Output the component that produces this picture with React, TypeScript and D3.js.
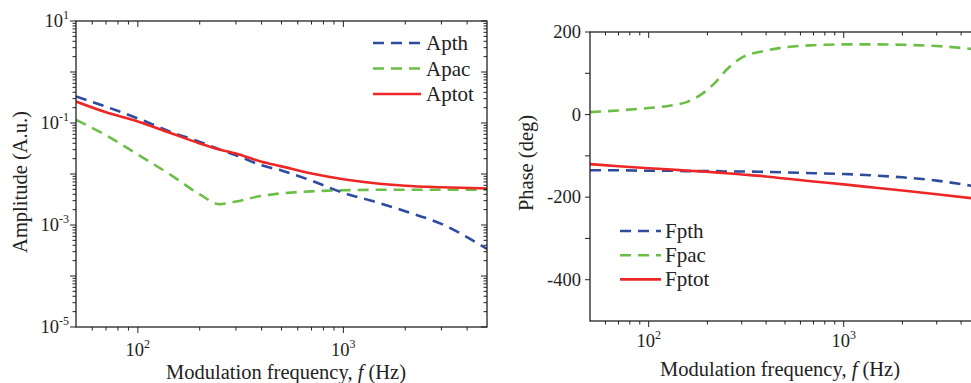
import React from "react";
import * as d3 from "d3";

// amplitude panel (left)
const ampFreq = [50, 70, 100, 150, 200, 250, 300, 400, 500, 700, 1000, 1500, 2000, 3000, 5000];
const apth = [0.331, 0.209, 0.123, 0.063, 0.0427, 0.0302, 0.0234, 0.0148, 0.0117, 0.0074, 0.00427, 0.00269, 0.00186, 0.00105, 0.00034];
const apac = [0.115, 0.0575, 0.024, 0.0087, 0.00398, 0.00257, 0.00288, 0.00372, 0.00417, 0.00457, 0.00479, 0.0049, 0.0049, 0.0049, 0.0049];
const aptot = [0.263, 0.162, 0.107, 0.06, 0.0398, 0.0302, 0.0251, 0.0174, 0.0141, 0.0102, 0.0079, 0.00646, 0.00589, 0.0055, 0.0052];

// phase panel (right)
const phaseFreq = [50, 70, 100, 130, 160, 190, 220, 250, 300, 400, 500, 700, 1000, 1500, 2000, 3000, 5000];
const fpth = [-135, -135, -136, -136, -137, -137, -137, -138, -138, -139, -140, -142, -144, -148, -152, -160, -176];
const fpac = [6, 10, 16, 22, 32, 52, 78, 108, 138, 155, 163, 168, 170, 170, 169, 166, 157];
const fptot = [-120, -125, -130, -133, -136, -138, -140, -142, -145, -150, -155, -162, -169, -178, -184, -193, -205];

// ticks
const freqMajor = [100, 1000];
const freqMinor = [60, 70, 80, 90, 200, 300, 400, 500, 600, 700, 800, 900, 2000, 3000, 4000];
const ampExp = [-5, -4, -3, -2, -1, 0, 1];
const ampLabelExp = [-5, -3, -1, 1];
const phaseMajor = [-400, -200, 0, 200];
const phaseMinor = [-300, -100, 100];

const BLUE = "#2d4b9f";
const GREEN = "#6cbf45";
const RED = "#ee2626";
const INK = "#222";
const FONT = "'Liberation Serif', 'Times New Roman', serif";

const L = { left: 76, right: 487, top: 21, bottom: 327 };
const R = { left: 590, right: 980, top: 32, bottom: 321 };

export default function App() {
  const xA = d3.scaleLog().domain([50, 5000]).range([L.left, L.right]);
  const yA = d3.scaleLog().domain([1e-5, 10]).range([L.bottom, L.top]);
  const xP = d3.scaleLog().domain([50, 5000]).range([R.left, R.right]);
  const yP = d3.scaleLinear().domain([-500, 200]).range([R.bottom, R.top]);

  const lineA = (vals: number[]) =>
    d3.line<number>()
      .x((_, i) => xA(ampFreq[i]))
      .y((d) => yA(d))
      .curve(d3.curveMonotoneX)(vals) || "";
  const lineP = (vals: number[]) =>
    d3.line<number>()
      .x((_, i) => xP(phaseFreq[i]))
      .y((d) => yP(d))
      .curve(d3.curveMonotoneX)(vals) || "";

  const ampMinor: number[] = [];
  ampExp.slice(0, -1).forEach((e) => {
    for (let m = 2; m <= 9; m++) ampMinor.push(m * Math.pow(10, e));
  });

  const xTicks = (x: (v: number) => number, b: { top: number; bottom: number }) => (
    <g stroke={INK} strokeWidth={1}>
      {freqMajor.map((f) => (
        <g key={"M" + f}>
          <line x1={x(f)} x2={x(f)} y1={b.bottom} y2={b.bottom + 6} />
          <line x1={x(f)} x2={x(f)} y1={b.top} y2={b.top + 6} />
        </g>
      ))}
      {freqMinor.map((f) => (
        <g key={"m" + f}>
          <line x1={x(f)} x2={x(f)} y1={b.bottom} y2={b.bottom + 3.5} />
          <line x1={x(f)} x2={x(f)} y1={b.top} y2={b.top + 3.5} />
        </g>
      ))}
    </g>
  );

  return (
    <svg width={971} height={383} style={{ position: "absolute", left: 0, top: 0, background: "#fff" }} fontFamily={FONT}>
      <defs>
        <clipPath id="clipA">
          <rect x={L.left} y={L.top} width={L.right - L.left} height={L.bottom - L.top} />
        </clipPath>
        <clipPath id="clipP">
          <rect x={R.left} y={R.top} width={R.right - R.left} height={R.bottom - R.top} />
        </clipPath>
      </defs>

      {/* ---------- left: amplitude ---------- */}
      <g clipPath="url(#clipA)" fill="none" strokeWidth={2.6}>
        <path d={lineA(apac)} stroke={GREEN} strokeDasharray="11,7" />
        <path d={lineA(apth)} stroke={BLUE} strokeDasharray="11,7" />
        <path d={lineA(aptot)} stroke={RED} />
      </g>
      <rect x={L.left} y={L.top} width={L.right - L.left} height={L.bottom - L.top} fill="none" stroke={INK} strokeWidth={1.3} />
      {xTicks(xA, L)}
      <g stroke={INK} strokeWidth={1}>
        {ampExp.map((e) => (
          <g key={e}>
            <line x1={L.left - 6} x2={L.left} y1={yA(Math.pow(10, e))} y2={yA(Math.pow(10, e))} />
            <line x1={L.right - 6} x2={L.right} y1={yA(Math.pow(10, e))} y2={yA(Math.pow(10, e))} />
          </g>
        ))}
        {ampMinor.map((v, i) => (
          <g key={i}>
            <line x1={L.left - 3.5} x2={L.left} y1={yA(v)} y2={yA(v)} />
            <line x1={L.right - 3.5} x2={L.right} y1={yA(v)} y2={yA(v)} />
          </g>
        ))}
      </g>
      <g fill={INK} fontSize={18.5}>
        {ampLabelExp.map((e) => (
          <text key={e} x={69} y={yA(Math.pow(10, e)) + 6} textAnchor="end">
            10<tspan fontSize={12} dy={-8}>{e}</tspan>
          </text>
        ))}
        {freqMajor.map((f) => (
          <text key={f} x={xA(f)} y={356} textAnchor="middle">
            10<tspan fontSize={12} dy={-8}>{Math.log10(f)}</tspan>
          </text>
        ))}
      </g>
      <text x={286} y={379} textAnchor="middle" fontSize={20.5} fill={INK}>
        Modulation frequency, <tspan fontStyle="italic">f</tspan> (Hz)
      </text>
      <text transform="translate(27,182) rotate(-90)" textAnchor="middle" fontSize={20.5} fill={INK}>
        Amplitude (A.u.)
      </text>
      <g fontSize={21} fill={INK}>
        {[
          { name: "Apth", color: BLUE, dash: "11,7" },
          { name: "Apac", color: GREEN, dash: "11,7" },
          { name: "Aptot", color: RED, dash: "" },
        ].map((s, i) => {
          const y = 43 + i * 25.5;
          return (
            <g key={s.name}>
              <line x1={373} x2={421} y1={y} y2={y} stroke={s.color} strokeWidth={2.6} strokeDasharray={s.dash || undefined} />
              <text x={426} y={y + 7}>{s.name}</text>
            </g>
          );
        })}
      </g>

      {/* ---------- right: phase ---------- */}
      <g clipPath="url(#clipP)" fill="none" strokeWidth={2.6}>
        <path d={lineP(fpac)} stroke={GREEN} strokeDasharray="11,7" />
        <path d={lineP(fpth)} stroke={BLUE} strokeDasharray="11,7" />
        <path d={lineP(fptot)} stroke={RED} />
      </g>
      <rect x={R.left} y={R.top} width={R.right - R.left} height={R.bottom - R.top} fill="none" stroke={INK} strokeWidth={1.3} />
      {xTicks(xP, R)}
      <g stroke={INK} strokeWidth={1}>
        {phaseMajor.concat(phaseMinor).map((v) => (
          <g key={v}>
            <line x1={R.left - 5} x2={R.left} y1={yP(v)} y2={yP(v)} />
            <line x1={R.right - 5} x2={R.right} y1={yP(v)} y2={yP(v)} />
          </g>
        ))}
      </g>
      <g fill={INK} fontSize={18.5}>
        {phaseMajor.map((v) => (
          <text key={v} x={581} y={yP(v) + 6} textAnchor="end">
            {v < 0 ? "-" + Math.abs(v) : v}
          </text>
        ))}
        {freqMajor.map((f) => (
          <text key={f} x={xP(f)} y={347} textAnchor="middle">
            10<tspan fontSize={12} dy={-8}>{Math.log10(f)}</tspan>
          </text>
        ))}
      </g>
      <text x={780} y={376} textAnchor="middle" fontSize={20.5} fill={INK}>
        Modulation frequency, <tspan fontStyle="italic">f</tspan> (Hz)
      </text>
      <text transform="translate(533,163) rotate(-90)" textAnchor="middle" fontSize={20.5} fill={INK}>
        Phase (deg)
      </text>
      <g fontSize={21} fill={INK}>
        {[
          { name: "Fpth", color: BLUE, dash: "11,7" },
          { name: "Fpac", color: GREEN, dash: "11,7" },
          { name: "Fptot", color: RED, dash: "" },
        ].map((s, i) => {
          const y = 231 + i * 24.2;
          return (
            <g key={s.name}>
              <line x1={620} x2={661} y1={y} y2={y} stroke={s.color} strokeWidth={2.6} strokeDasharray={s.dash || undefined} />
              <text x={665} y={y + 7}>{s.name}</text>
            </g>
          );
        })}
      </g>
    </svg>
  );
}
